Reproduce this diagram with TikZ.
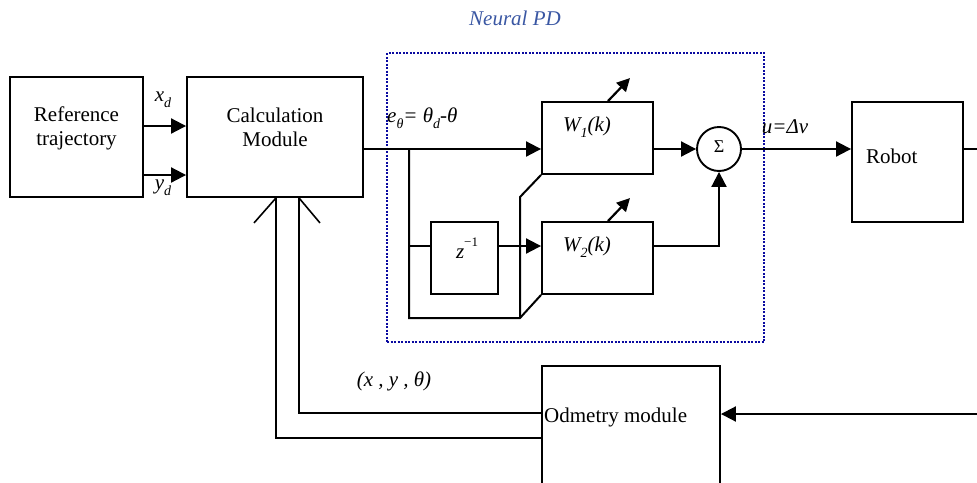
\documentclass[tikz,border=0pt]{standalone}
\usepackage{fontspec}
\setmainfont{Liberation Serif}
\usetikzlibrary{arrows.meta,calc}
\definecolor{npdline}{HTML}{0A0AA0}
\definecolor{npdtext}{HTML}{3A57A3}
% lowered / raised small text for indices
\newcommand\lowidx[1]{\raisebox{-0.28em}{\fontsize{14}{14}\selectfont #1}}
\newcommand\highidx[1]{\raisebox{0.55em}{\fontsize{13}{13}\selectfont #1}}
\begin{document}
\begin{tikzpicture}[x=1pt,y=-1pt,
  font=\fontsize{21}{24}\selectfont,
  blk/.style={draw, line width=1.9pt, inner sep=0pt},
  wire/.style={line width=2pt},
  thin wire/.style={line width=1.6pt},
  arr/.style={line width=2pt, -{Triangle[length=15pt,width=15pt]}},
  tune/.style={line width=2.2pt, -{Triangle[length=13pt,width=13pt]}},
  lbl/.style={inner sep=0pt},
]
\useasboundingbox (0,0) rectangle (977,482);
\clip (0,0) rectangle (977,482);

% blocks
\node[blk, minimum width=133pt, minimum height=120pt] (ref)   at (76.5,137) {};
\node[blk, minimum width=176pt, minimum height=120pt] (calc)  at (275,137) {};
\node[blk, minimum width=111pt, minimum height=72pt]  (W1)    at (597.5,138) {};
\node[blk, minimum width=111pt, minimum height=72pt]  (W2)    at (597.5,258) {};
\node[blk, minimum width=67pt,  minimum height=72pt]  (zbox)  at (464.5,258) {};
\node[blk, circle, minimum size=44pt]                 (sum)   at (719,149) {};
\node[blk, minimum width=111pt, minimum height=120pt] (robot) at (907.5,162) {};
\node[blk, minimum width=178pt, minimum height=140pt] (odo)   at (631,436) {};

% neural PD frame
\node[draw=npdline, line width=2.2pt, dash pattern=on 2pt off 1.5pt,
      minimum width=377pt, minimum height=289pt, inner sep=0pt] (npd) at (575.5,197.5) {};
\node[lbl, text=npdtext, font=\fontsize{21}{24}\selectfont\itshape] (npdlab) at (515,18) {Neural PD};

% block texts
\node[lbl, align=center] (reftxt) at (76.5,128) {Reference\\trajectory};
\node[lbl, align=center] (calctxt) at (275,127) {Calculation\\Module};
\node[lbl, font=\fontsize{21}{24}\selectfont\itshape] (W1txt) at (587,127) {W\lowidx{\itshape 1}(k)};
\node[lbl, font=\fontsize{21}{24}\selectfont\itshape] (W2txt) at (587,247) {W\lowidx{2}(k)};
\node[lbl] (ztxt) at (467,248) {\textit{z}\highidx{−1}};
\node[lbl, font=\fontsize{18}{18}\selectfont] (sigma) at ([yshift=2pt]sum) {Σ};
\node[lbl, anchor=west] (robtxt) at (866,156) {Robot};
\node[lbl, anchor=west] (odotxt) at (544,417) {Odmetry module};

% signal labels
\node[lbl, font=\fontsize{21}{24}\selectfont\itshape] (xd) at (163,100) {x\lowidx{d}};
\node[lbl, font=\fontsize{21}{24}\selectfont\itshape] (yd) at (163,188) {y\lowidx{d}};
\node[lbl, anchor=west, font=\fontsize{21}{24}\selectfont\itshape] (elab) at (387,118) {e\lowidx{θ}= θ\lowidx{d}-θ};
\node[lbl, font=\fontsize{21}{24}\selectfont\itshape] (ulab) at (785,127) {u=Δv};
\node[lbl, font=\fontsize{21}{24}\selectfont\itshape] (poslab) at (394,381) {(x , y , θ)};

% reference -> calculation
\draw[arr] ([yshift=11pt]ref.east) -- ([yshift=11pt]calc.west);
\draw[arr] ([yshift=-38pt]ref.east) -- ([yshift=-38pt]calc.west);

% error path into the neural PD
\coordinate (br) at (409,149);
\coordinate (bl) at (409,318);
\coordinate (bm) at (520,318);
\coordinate (bk) at (520,197);
\draw[wire] (calc.east |- sum.west) -- (br);
\draw[arr] (br) -- (W1.west |- sum.west);
\draw[wire] (br) -- (bl) -- (bm) -- (W2.south west);
\draw[wire] (W1.south west) -- (bk) -- (bm);
\draw[wire] (br |- 0,246) -- ([yshift=12pt]zbox.west);
\draw[arr] ([yshift=12pt]zbox.east) -- ([yshift=12pt]W2.west);

% weight adaptation arrows
\draw[tune] ([xshift=10.5pt]W1.north) -- ++(22,-23) coordinate (t1);
\draw[tune] ([xshift=10.5pt]W2.north) -- ++(22,-23) coordinate (t2);

% summation
\draw[arr] (W1.east |- sum.west) -- (sum.west);
\draw[arr] ([yshift=12pt]W2.east) -| (sum.south);
\draw[arr] (sum.east) -- (robot.west |- sum.east);

% robot output and odometry
\coordinate (outR) at (977,149);
\coordinate (inR) at (977,414);
\draw[wire] (robot.east |- outR) -- (outR);
\draw[arr] (inR) -- (odo.east |- inR);

% pose feedback
\coordinate (fa) at (299,413);
\coordinate (fb) at (276,438);
\draw[thin wire] (odo.west |- fa) -- (fa) -- (fa |- calc.south);
\draw[thin wire] (odo.west |- fb) -- (fb) -- (fb |- calc.south);
\draw[thin wire] (fb |- calc.south) -- ++(-22,25);
\draw[thin wire] (fa |- calc.south) -- ++(21,25);
\end{tikzpicture}
\end{document}
